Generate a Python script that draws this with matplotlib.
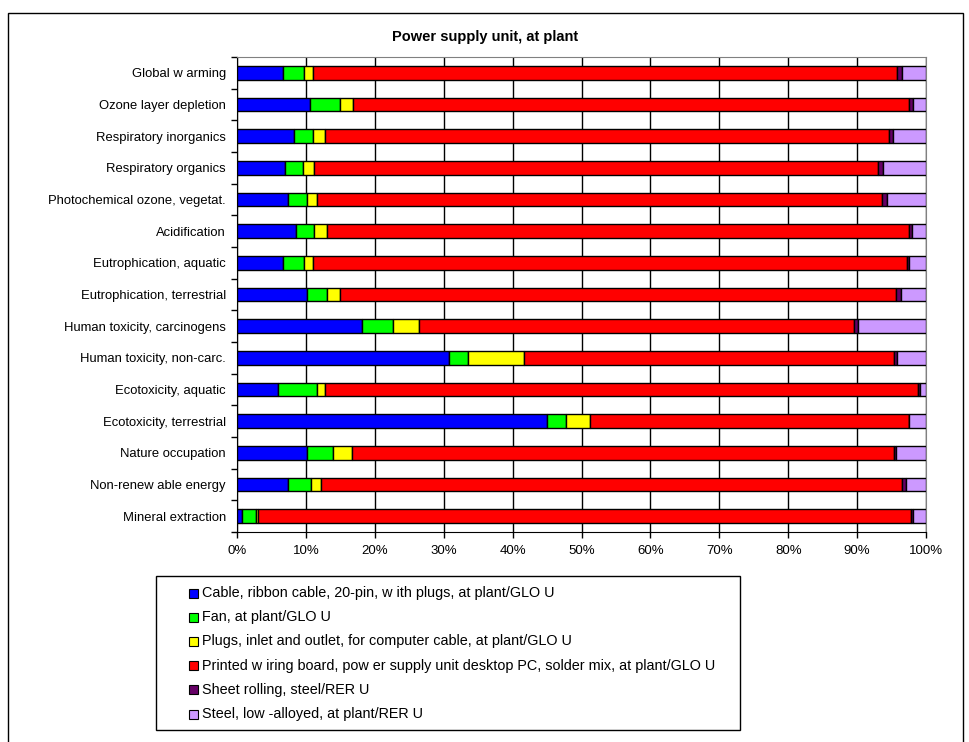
import matplotlib
matplotlib.use('Agg')
import matplotlib.pyplot as plt
import matplotlib.patches as mpatches
import numpy as np

plt.rcParams['font.family'] = ['Liberation Sans', 'DejaVu Sans']

categories = [
    'Global w arming', 'Ozone layer depletion', 'Respiratory inorganics',
    'Respiratory organics', 'Photochemical ozone, vegetat.', 'Acidification',
    'Eutrophication, aquatic', 'Eutrophication, terrestrial',
    'Human toxicity, carcinogens', 'Human toxicity, non-carc.',
    'Ecotoxicity, aquatic', 'Ecotoxicity, terrestrial', 'Nature occupation',
    'Non-renew able energy', 'Mineral extraction']

# shares in %
cable = [6.7, 10.6, 8.3, 6.9, 7.4, 8.5, 6.7, 10.1, 18.2, 30.7, 6.0, 45.0, 10.2, 7.4, 0.7]
fan = [3.0, 4.3, 2.7, 2.7, 2.7, 2.7, 3.0, 2.9, 4.4, 2.8, 5.6, 2.7, 3.7, 3.4, 2.0]
plugs = [1.3, 2.0, 1.8, 1.6, 1.5, 1.8, 1.3, 2.0, 3.8, 8.2, 1.2, 3.5, 2.8, 1.4, 0.4]
pwb = [84.8, 80.6, 81.8, 81.8, 82.0, 84.5, 86.3, 80.7, 63.2, 53.7, 86.0, 46.3, 78.7, 84.3, 94.7]
sheet = [0.7, 0.6, 0.6, 0.8, 0.8, 0.5, 0.3, 0.7, 0.5, 0.4, 0.3, 0.1, 0.2, 0.6, 0.3]
steel = [3.5, 1.9, 4.8, 6.2, 5.6, 2.0, 2.4, 3.6, 9.9, 4.2, 0.9, 2.4, 4.4, 2.9, 1.9]

series_labels = [
    'Cable, ribbon cable, 20-pin, w ith plugs, at plant/GLO U',
    'Fan, at plant/GLO U',
    'Plugs, inlet and outlet, for computer cable, at plant/GLO U',
    'Printed w iring board, pow er supply unit desktop PC, solder mix, at plant/GLO U',
    'Sheet rolling, steel/RER U',
    'Steel, low -alloyed, at plant/RER U']
colors = ['#0000FF', '#00FF00', '#FFFF00', '#FF0000', '#660066', '#CC99FF']

W, H = 969, 742
fig = plt.figure(figsize=(W / 100, H / 100), dpi=100)

# outer chart frame
fig.patches.append(mpatches.Rectangle((8 / W, -0.1), 955 / W, 1.1 - 13 / H,
                                      transform=fig.transFigure, fill=False,
                                      edgecolor='black', linewidth=1.0))

ax = fig.add_axes([237 / W, 1 - 532 / H, (926 - 237) / W, (532 - 57) / H])

y = np.arange(len(categories))
left = np.zeros(len(categories))
for vals, c in zip([cable, fan, plugs, pwb, sheet, steel], colors):
    ax.barh(y, vals, left=left, height=0.43, color=c, edgecolor='black',
            linewidth=1.0, zorder=3)
    left += np.array(vals)

ax.set_ylim(len(categories) - 0.5, -0.5)
ax.set_xlim(0, 100)
ax.set_xticks(np.arange(0, 101, 10))
ax.set_xticklabels(['{}%'.format(v) for v in range(0, 101, 10)], fontsize=9.5)
ax.set_yticks(y)
ax.set_yticklabels(categories, fontsize=9.4)
ax.set_yticks(np.arange(-0.5, len(categories), 1), minor=True)
ax.tick_params(axis='y', which='major', length=0, pad=8)
ax.tick_params(axis='y', which='minor', length=4, width=1, direction='out')
ax.tick_params(axis='x', length=4, width=1, direction='out', pad=5)
ax.grid(axis='x', color='black', linewidth=1.0, zorder=0)
for s in ['top', 'right']:
    ax.spines[s].set_color('#808080')
for s in ['left', 'bottom']:
    ax.spines[s].set_color('black')

fig.text(485 / W, 1 - 37 / H, 'Power supply unit, at plant', ha='center',
         va='center', fontsize=10.5, fontweight='bold')

# legend box
lx0, ly0, lx1, ly1 = 156, 576, 740, 730
fig.patches.append(mpatches.Rectangle((lx0 / W, 1 - ly1 / H), (lx1 - lx0) / W,
                                      (ly1 - ly0) / H, transform=fig.transFigure,
                                      fill=False, edgecolor='black', linewidth=1.0))
for i, (lab, c) in enumerate(zip(series_labels, colors)):
    yc = 593 + i * 24.2
    fig.patches.append(mpatches.Rectangle((189 / W, 1 - (yc + 4.5) / H), 9 / W, 9 / H,
                                          transform=fig.transFigure, facecolor=c,
                                          edgecolor='black', linewidth=0.8))
    fig.text(202 / W, 1 - yc / H, lab, ha='left', va='center', fontsize=10.4)

fig.savefig('out.png', dpi=100)
